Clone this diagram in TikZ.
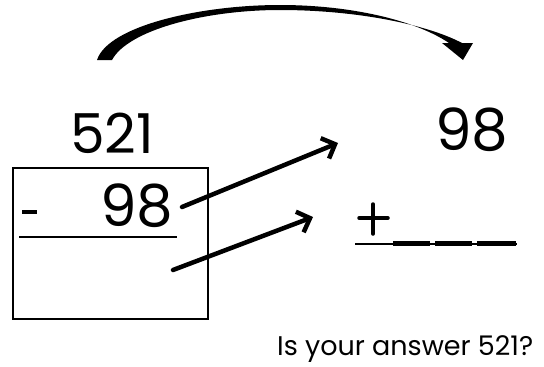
\documentclass[tikz,border=0pt]{standalone}
\usepackage{fontspec}
\setmainfont{Poppins}
\usetikzlibrary{arrows.meta}
\begin{document}
\begin{tikzpicture}[x=1pt,y=-1pt,
  num/.style={inner sep=0pt, font=\fontsize{58}{60}\selectfont},
  pointer/.style={line width=4.5pt, line cap=round, -{Straight Barb[length=11pt,width=22pt,line width=4.5pt]}}]
\useasboundingbox[fill=white] (0,0) rectangle (544,367);
% big curved arrow
\fill (97,60) .. controls (108,26) and (200,5) .. (280,5) .. controls (350,5) and (415,20) .. (449,43)
   -- (462,43) .. controls (426,24) and (355,10) .. (280,10) .. controls (205,10) and (128,30) .. (112,60) -- cycle;
\fill (442,43) -- (473,43) -- (463,60) -- cycle;
% numbers
\node[num, font=\fontsize{55}{57}\selectfont] (top) at (112,133) {521};
\node[num] (sub) at (137,206) {98};
\node[num] (right) at (472,130) {98};
% box
\draw[line width=2pt] (13,168) rectangle (208,319);
\coordinate (minusA) at (22,212);
\coordinate (minusB) at (37,212);
\draw[line width=3.5pt] (minusA) -- (minusB);
\coordinate (barA) at (19,237);
\coordinate (barB) at (177,237);
\draw[line width=2pt] (barA) -- (barB);
% arrows
\coordinate (s1) at (182,207);
\coordinate (t1) at (338,143);
\coordinate (s2) at (173,270);
\coordinate (t2) at (313,217);
\draw[pointer] (s1) -- (t1);
\draw[pointer] (s2) -- (t2);
% plus and blanks
\coordinate (pv1) at (373,204);
\coordinate (pv2) at (373,234);
\coordinate (ph1) at (359,218);
\coordinate (ph2) at (388,218);
\draw[line width=3.5pt, line cap=round] (pv1) -- (pv2) (ph1) -- (ph2);
\draw[line width=2pt] (355,244) -- (517,244);
\fill (393,241) rectangle (430,246);
\fill (435,241) rectangle (472,246);
\fill (477,241) rectangle (516,246);
% question
\node[anchor=base west, inner sep=0pt, font=\fontsize{27}{30}\selectfont] (q) at (277,355) {Is your answer 521?};
\end{tikzpicture}
\end{document}
